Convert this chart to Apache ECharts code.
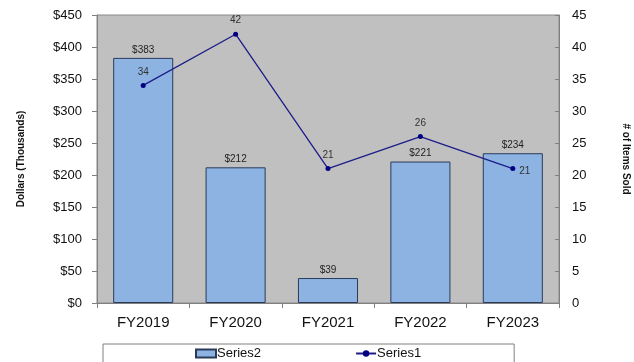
<!DOCTYPE html>
<html>
<head>
<meta charset="utf-8">
<script src="https://cdn.jsdelivr.net/npm/echarts@6/dist/echarts.min.js"></script>
<style>
  html, body { margin: 0; padding: 0; background: #fff; }
  #chart { width: 634px; height: 362px; }
</style>
</head>
<body>
<div id="chart"></div>
<script>
  var categories = ['FY2019', 'FY2020', 'FY2021', 'FY2022', 'FY2023'];
  var dollars = [383, 212, 39, 221, 234];   // Series2, thousands
  var itemsSold = [34, 42, 21, 26, 21];      // Series1

  // last point's label sits to the right of the marker in the original
  var lineData = itemsSold.map(function (v, i) {
    if (i === itemsSold.length - 1) {
      return { value: v, label: { position: 'right', distance: 4, offset: [0, 3] } };
    }
    return v;
  });

  var chart = echarts.init(document.getElementById('chart'));
  chart.setOption({
    animation: false,
    textStyle: { fontFamily: 'Liberation Sans, Arial, sans-serif' },
    grid: {
      left: 97, right: 75, top: 15, bottom: 59,
      outerBoundsMode: 'none',
      containLabel: false,
      show: true,
      backgroundColor: '#C0C0C0',
      borderColor: '#8a8a8a',
      borderWidth: 1
    },
    legend: {
      left: 103,
      top: 344,
      padding: [3, 93, 6, 92],
      itemGap: 94,
      itemWidth: 20,
      itemHeight: 8,
      borderColor: '#808080',
      borderWidth: 1,
      backgroundColor: '#fff',
      textStyle: { fontSize: 13, color: '#111', padding: [0, 0, 0, -4] },
      data: [
        { name: 'Series2', icon: 'rect' },
        { name: 'Series1' }
      ]
    },
    xAxis: {
      type: 'category',
      data: categories,
      axisLine: { lineStyle: { color: '#808080' } },
      axisTick: { show: true, lineStyle: { color: '#808080' }, length: 5 },
      axisLabel: { fontSize: 15, color: '#111', margin: 12 }
    },
    yAxis: [
      {
        type: 'value',
        min: 0, max: 450, interval: 50,
        name: 'Dollars (Thousands)',
        nameLocation: 'middle',
        nameGap: 71,
        nameTextStyle: { fontSize: 10, fontWeight: 'bold', color: '#111' },
        axisLine: { show: true, lineStyle: { color: '#808080' } },
        axisTick: { show: true, length: 5, lineStyle: { color: '#808080' } },
        axisLabel: { formatter: '${value}', fontSize: 13, color: '#111', margin: 15 },
        splitLine: { show: false }
      },
      {
        type: 'value',
        min: 0, max: 45, interval: 5,
        name: '# of Items Sold',
        nameLocation: 'middle',
        nameGap: 62,
        nameRotate: -90,
        nameTextStyle: { fontSize: 10, fontWeight: 'bold', color: '#111' },
        axisLine: { show: true, lineStyle: { color: '#808080' } },
        axisTick: { show: true, inside: true, length: 4, lineStyle: { color: '#808080' } },
        axisLabel: { fontSize: 13, color: '#111', margin: 13 },
        splitLine: { show: false }
      }
    ],
    series: [
      {
        name: 'Series2',
        type: 'bar',
        data: dollars,
        yAxisIndex: 0,
        barCategoryGap: '35%',
        itemStyle: { color: '#8DB3E2', borderColor: '#2a3a5a', borderWidth: 1 },
        label: {
          show: true, position: 'top', distance: 3,
          formatter: '${c}', fontSize: 10, color: '#222'
        }
      },
      {
        name: 'Series1',
        type: 'line',
        data: lineData,
        yAxisIndex: 1,
        symbol: 'circle',
        symbolSize: 5,
        lineStyle: { color: '#1c1c8a', width: 1.3 },
        itemStyle: { color: '#000080' },
        label: {
          show: true, position: 'top', distance: 6,
          fontSize: 10, color: '#333'
        }
      }
    ]
  });
</script>
</body>
</html>
